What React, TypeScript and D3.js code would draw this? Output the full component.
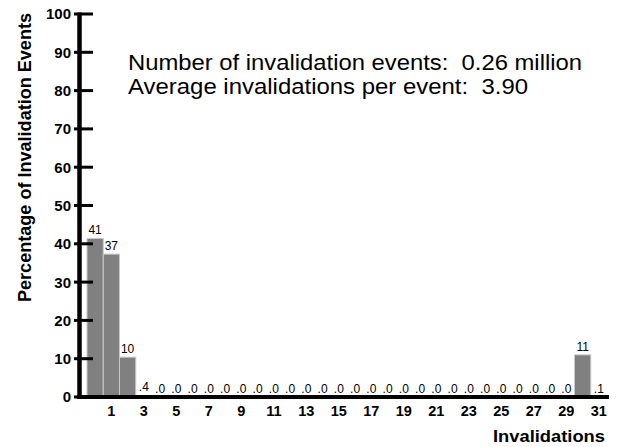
import React, { useEffect, useRef } from 'react';
import * as d3 from 'd3';

// percentage of invalidation events by number of invalidations (0..31)
const counts = d3.range(0, 32);
const percents = [
  41.4, 37.3, 10.4, 0.4,
  0, 0, 0, 0, 0, 0, 0, 0, 0, 0, 0, 0, 0, 0, 0, 0, 0, 0, 0, 0, 0, 0, 0, 0, 0, 0,
  11, 0.1,
];
const yTicks = [0, 10, 20, 30, 40, 50, 60, 70, 80, 90, 100];
const xTickLabels = [1, 3, 5, 7, 9, 11, 13, 15, 17, 19, 21, 23, 25, 27, 29, 31];
const infoLines = [
  'Number of invalidation events:  0.26 million',
  'Average invalidations per event:  3.90',
];
const infoWidths = [454, 400];

const fmt = (v: number) => (v >= 1 ? d3.format('.0f')(v) : d3.format('.1f')(v).replace(/^0/, ''));

export default function App() {
  const svgRef = useRef<SVGSVGElement>(null);

  useEffect(() => {
    if (!svgRef.current) return;
    const svg = d3.select(svgRef.current);
    const width = 621;
    const height = 447;
    svg.selectAll('*').remove();
    svg.attr('width', width).attr('height', height).attr('viewBox', [0, 0, width, height]);

    const font = 'Liberation Sans, Arial, Helvetica, sans-serif';

    const x = d3.scaleBand<number>()
      .domain(counts)
      .range([87, 607])
      .padding(0);

    const y = d3.scaleLinear()
      .domain([0, 100])
      .range([397, 14]);

    // bars
    svg.append('g')
      .selectAll('rect')
      .data(percents)
      .enter()
      .append('rect')
      .attr('x', (_, i) => x(counts[i])!)
      .attr('y', d => y(d))
      .attr('width', x.bandwidth())
      .attr('height', d => y(0) - y(d))
      .attr('fill', '#808080')
      .attr('stroke', '#c8c8c8')
      .attr('stroke-width', 1);

    // value labels
    svg.append('g')
      .selectAll('text')
      .data(percents)
      .enter()
      .append('text')
      .attr('x', (_, i) => x(counts[i])! + x.bandwidth() / 2)
      .attr('y', d => y(d) - 4)
      .attr('text-anchor', 'middle')
      .attr('font-family', font)
      .attr('font-size', 12)
      .attr('fill', '#000')
      .text(d => fmt(d));

    // y axis
    svg.append('line')
      .attr('x1', 79.5).attr('x2', 79.5)
      .attr('y1', y(100) - 1.5).attr('y2', y(0) + 2)
      .attr('stroke', '#000').attr('stroke-width', 4.5);

    const yt = svg.append('g')
      .selectAll('g')
      .data(yTicks)
      .enter()
      .append('g')
      .attr('transform', d => `translate(0,${y(d)})`);
    yt.append('line')
      .attr('x1', 74).attr('x2', 93)
      .attr('stroke', '#000').attr('stroke-width', 3);
    yt.append('text')
      .attr('x', 71)
      .attr('dy', '0.36em')
      .attr('text-anchor', 'end')
      .attr('font-family', font)
      .attr('font-weight', 'bold')
      .attr('font-size', 15)
      .text(d => d);

    // x axis
    svg.append('line')
      .attr('x1', 77).attr('x2', 609)
      .attr('y1', y(0)).attr('y2', y(0))
      .attr('stroke', '#000').attr('stroke-width', 4);

    svg.append('g')
      .selectAll('text')
      .data(xTickLabels)
      .enter()
      .append('text')
      .attr('x', d => x(d)! + x.bandwidth() / 2)
      .attr('y', 416)
      .attr('text-anchor', 'middle')
      .attr('font-family', font)
      .attr('font-weight', 'bold')
      .attr('font-size', 14.5)
      .text(d => d);

    // axis titles
    svg.append('text')
      .attr('x', 493)
      .attr('y', 442)
      .attr('font-family', font)
      .attr('font-weight', 'bold')
      .attr('font-size', 16.5)
      .attr('textLength', 112)
      .attr('lengthAdjust', 'spacingAndGlyphs')
      .text('Invalidations');

    svg.append('text')
      .attr('transform', 'translate(30.5,302) rotate(-90)')
      .attr('font-family', font)
      .attr('font-weight', 'bold')
      .attr('font-size', 17.5)
      .attr('textLength', 289)
      .attr('lengthAdjust', 'spacingAndGlyphs')
      .text('Percentage of Invalidation Events');

    // info text
    svg.append('g')
      .selectAll('text')
      .data(infoLines)
      .enter()
      .append('text')
      .attr('x', 128)
      .attr('y', (_, i) => 70 + i * 24)
      .attr('font-family', font)
      .attr('font-size', 21.5)
      .attr('fill', '#000')
      .attr('textLength', (_, i) => infoWidths[i])
      .attr('lengthAdjust', 'spacingAndGlyphs')
      .style('white-space', 'pre')
      .text(d => d);
  }, []);

  return (
    <div style={{ position: 'absolute', left: 0, top: 0 }}>
      <svg ref={svgRef} style={{ display: 'block', background: '#fff' }} />
    </div>
  );
}
